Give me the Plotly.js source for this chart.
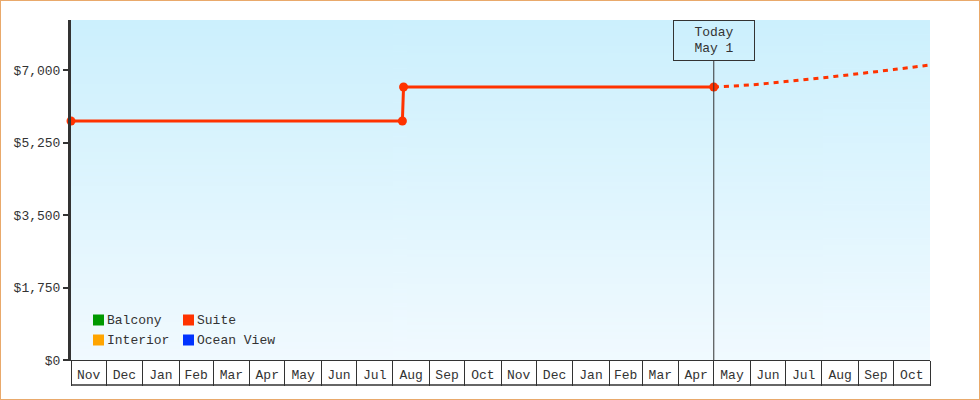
<!DOCTYPE html>
<html>
<head>
<meta charset="utf-8">
<script src="https://cdn.plot.ly/plotly-3.0.1.min.js"></script>
<style>
  body { margin: 0; }
  #wrap { position: relative; width: 980px; height: 400px; }
  #chart { width: 980px; height: 400px; }
  #frame { position: absolute; left: 0; top: 0; width: 980px; height: 400px;
           box-sizing: border-box; border: 1px solid #e9a96b; pointer-events: none; }
</style>
</head>
<body>
<div id="wrap"><div id="chart"></div><div id="frame"></div></div>
<script>
// suite price history + projection
var suiteDates = ['2023-11-01', '2024-08-09', '2024-08-10', '2025-05-01'];
var suitePrices = [5770, 5770, 6590, 6590];
var projDates = ['2025-05-01', '2025-06-01', '2025-07-01', '2025-08-01', '2025-09-01', '2025-10-01', '2025-11-01'];
var projPrices = [6590, 6640, 6720, 6810, 6910, 7010, 7120];
var legendNames = ['Balcony', 'Suite', 'Interior', 'Ocean View'];
var yTicks = [0, 1750, 3500, 5250, 7000];
var today = '2025-05-01';
var todayLabel = 'Today<br>May 1';

var colors = {Balcony: '#009900', Suite: '#ff3300', Interior: '#ffa500', 'Ocean View': '#0033ff'};
var font = {family: 'Liberation Mono, DejaVu Sans Mono, monospace', size: 13, color: '#333'};

// gradient for plot background
var cv = document.createElement('canvas');
cv.width = 4; cv.height = 200;
var ctx = cv.getContext('2d');
var g = ctx.createLinearGradient(0, 0, 0, 200);
g.addColorStop(0, '#ccf0fd');
g.addColorStop(1, '#f1faff');
ctx.fillStyle = g;
ctx.fillRect(0, 0, 4, 200);

var L = 71, R = 930, T = 20, B = 360;
function px(x) { return (x - L) / (R - L); }
function py(y) { return (B - y) / (B - T); }

var data = [
  {x: suiteDates, y: suitePrices, mode: 'lines+markers', name: 'Suite', cliponaxis: false,
   line: {color: colors.Suite, width: 3}, marker: {color: colors.Suite, size: 9}, showlegend: false},
  {x: projDates, y: projPrices, mode: 'lines', name: 'Suite (projected)',
   line: {color: colors.Suite, width: 3, dash: '5px,5px', shape: 'spline'}, showlegend: false}
];

var shapes = [
  {type: 'line', xref: 'x', yref: 'paper', x0: today, x1: today, y0: 0, y1: py(61),
   line: {color: '#333', width: 1}},
  {type: 'line', xref: 'paper', yref: 'paper', x0: 0, x1: 1, y0: py(385), y1: py(385),
   line: {color: '#333', width: 1.5}}
];
var annotations = [
  {xref: 'x', yref: 'paper', x: today, y: 1, yanchor: 'top', text: todayLabel, showarrow: false,
   font: font, bordercolor: '#333', borderwidth: 1, width: 78, height: 37, borderpad: 1}
];

// legend: two columns
var cols = [93, 183], rows = [320, 340];
legendNames.forEach(function (n, i) {
  var cx = cols[i % 2], cy = rows[Math.floor(i / 2)];
  shapes.push({type: 'rect', xref: 'paper', yref: 'paper', x0: px(cx), x1: px(cx + 11),
    y0: py(cy + 5.5), y1: py(cy - 5.5), fillcolor: colors[n], line: {width: 0}});
  annotations.push({xref: 'paper', yref: 'paper', x: px(cx + 12), y: py(cy), xanchor: 'left',
    yanchor: 'middle', text: n, showarrow: false, font: font});
});

var layout = {
  width: 980, height: 400,
  margin: {l: L, r: 980 - R, t: T, b: 400 - B},
  paper_bgcolor: '#fff', plot_bgcolor: 'rgba(0,0,0,0)',
  font: font,
  showlegend: false,
  xaxis: {type: 'date', range: ['2023-11-01', '2025-11-01'], dtick: 'M1', tick0: '2023-11-01',
    ticks: 'outside', ticklen: 25, tickwidth: 1, tickcolor: '#333', showticklabels: false,
    showgrid: false, zeroline: false, showline: true, linecolor: '#333', linewidth: 1, fixedrange: true},
  xaxis2: {type: 'date', overlaying: 'x', anchor: 'y', side: 'bottom',
    range: ['2023-11-01', '2025-11-01'], dtick: 'M1', tick0: '2023-11-01',
    ticklabelmode: 'period', tickformat: '%b', ticks: 'outside', ticklen: 2,
    tickcolor: 'rgba(0,0,0,0)',
    showgrid: false, zeroline: false, showline: false, tickfont: font},
  yaxis: {range: [0, 8207], tickvals: yTicks,
    ticktext: yTicks.map(function (v) { return '$' + v.toLocaleString('en-US'); }),
    ticks: 'outside', ticklen: 5, tickwidth: 2, tickcolor: '#333',
    showline: true, linecolor: '#333', linewidth: 3, showgrid: false, zeroline: false, tickfont: font},
  images: [{source: cv.toDataURL(), xref: 'paper', yref: 'paper', x: 0, y: 1, sizex: 1, sizey: 1,
    sizing: 'stretch', layer: 'below', xanchor: 'left', yanchor: 'top'}],
  shapes: shapes,
  annotations: annotations
};

// dummy trace so xaxis2 is drawn
data.push({x: [null], y: [null], xaxis: 'x2', showlegend: false, hoverinfo: 'skip'});

Plotly.newPlot('chart', data, layout, {displayModeBar: false, staticPlot: true});
</script>
</body>
</html>
